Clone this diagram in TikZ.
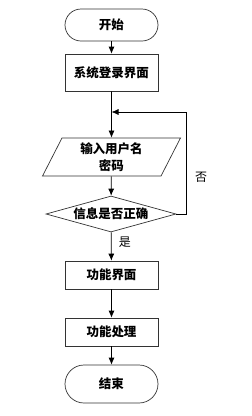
\documentclass[tikz,border=0pt]{standalone}
\usepackage{fontspec}
\newfontfamily\cjk{Noto Sans CJK SC}
\usepackage{tikz}
\usetikzlibrary{arrows.meta}
\usetikzlibrary{shapes.geometric}
\tikzset{
  flow/.style={draw=black!80, line width=0.7pt, font=\cjk\bfseries\fontsize{12.5}{17}\selectfont, inner sep=0pt},
  term/.style={flow, rectangle, rounded corners=16pt, minimum width=93pt, minimum height=32pt},
  proc/.style={flow, rectangle, minimum width=93pt, minimum height=28pt},
  io/.style={flow, trapezium, trapezium left angle=67, trapezium right angle=113, trapezium stretches=true, minimum width=139pt, minimum height=38pt, align=center},
  test/.style={flow, diamond, aspect=3.6, minimum width=130pt, minimum height=36pt},
  arr/.style={line width=0.7pt, arrows={-Latex[length=7pt,width=6pt]}},
  lbl/.style={font=\cjk\fontsize{12}{14}\selectfont}
}
\begin{document}
\begin{tikzpicture}[x=1pt,y=1pt]
\useasboundingbox (0,0) rectangle (252,-416);
\fill[white] (0,0) rectangle (252,-416);
\node[term] (start) at (111.5,-25) {开始};
\node[proc,minimum height=37pt] (login) at (111.5,-72.5) {系统登录界面};
\node[io] (input) at (111.5,-157) {输入用户名\\密码};
\node[test] (check) at (111,-214) {信息是否正确};
\node[proc] (menu) at (111.5,-275) {功能界面};
\node[proc] (work) at (111.5,-332) {功能处理};
\node[term,minimum height=38pt,rounded corners=19pt] (stop) at (111.5,-384) {结束};
\coordinate (loop) at (111.5,-112);
\coordinate (back) at (186,-112);
\draw[arr] (start) -- (login);
\draw[arr] (login) -- (input);
\draw[arr] (input) -- (check);
\draw[arr] (check) -- node[lbl,right=4pt,pos=0.35] (yes) {是} (menu);
\draw[arr] (menu) -- (work);
\draw[arr] (work) -- (stop);
\draw[arr] (check.east) -| (back) -- (loop);
\node[lbl] (no) at (201,-177) {否};
\end{tikzpicture}
\end{document}
